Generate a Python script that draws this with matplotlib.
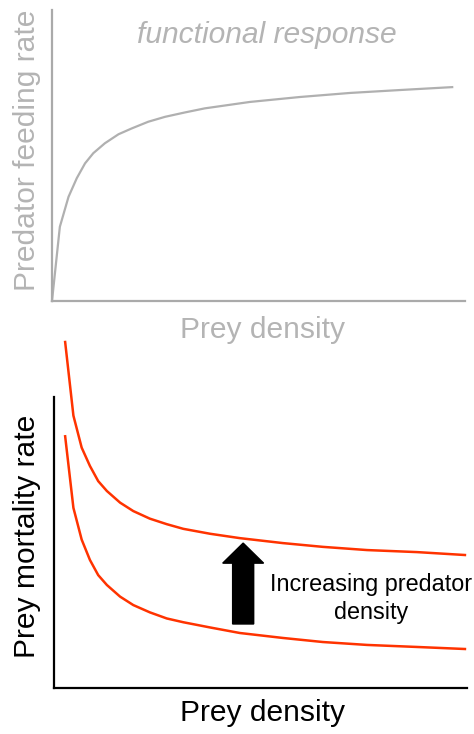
import numpy as np
import matplotlib
matplotlib.use('Agg')
import matplotlib.pyplot as plt
from matplotlib.patches import FancyArrow

plt.rcParams['font.family'] = ['Liberation Sans', 'DejaVu Sans']

# functional response (top panel)
fr_density = [0, 1.9, 4.0, 6.0, 8.0, 10.0, 12.8, 16.1, 19.3, 23.3, 27.4, 32.2, 37.0,
              47.9, 60.0, 72.2, 84.3, 96.9]
fr_rate = [0, 25.5, 35.8, 42.2, 47.3, 50.8, 54.2, 57.3, 59.3, 61.6, 63.3, 64.8, 66.2,
           68.4, 70.1, 71.5, 72.5, 73.5]

# prey mortality (bottom panel)
mort_density = [2.7, 4.7, 6.7, 8.7, 10.7, 12.8, 16.0, 19.2, 23.2, 27.3, 31.3, 37.8,
                45.0, 55.4, 65.1, 75.8, 87.9, 99.5]
mort_high = [118.9, 93.6, 82.6, 76.3, 71.1, 67.7, 63.7, 60.8, 58.2, 56.3, 54.7, 53.0,
             51.5, 49.8, 48.5, 47.4, 46.7, 45.7]
mort_low = [86.5, 61.9, 51.0, 44.0, 38.8, 35.4, 31.4, 28.5, 26.0, 23.9, 22.6, 20.8,
            18.9, 17.2, 15.8, 14.8, 14.1, 13.4]

grey_line = '#aaaaaa'
grey_text = '#b4b4b4'
red = '#ff3300'

fig = plt.figure(figsize=(4.74, 7.34), dpi=100)

# top panel
ax1 = fig.add_axes([52/474, 1 - 301/734, 413/474, 291/734])
ax1.plot(fr_density, fr_rate, color='#b0b0b0', lw=1.6, clip_on=False)
ax1.set_xlim(0, 100)
ax1.set_ylim(0, 100)
for s in ['top', 'right']:
    ax1.spines[s].set_visible(False)
for s in ['left', 'bottom']:
    ax1.spines[s].set_color(grey_line)
    ax1.spines[s].set_linewidth(1.6)
ax1.set_xticks([])
ax1.set_yticks([])
ax1.text(52.1, 88.7, 'functional response', style='italic', color=grey_text,
         fontsize=21.6, ha='center', va='baseline')
ax1.text(-25/413, (301-150)/291, 'Predator feeding rate', rotation=90, color=grey_text,
         fontsize=21.6, ha='center', va='center', transform=ax1.transAxes)
ax1.text((262-52)/413, -(330-301)/291, 'Prey density', color=grey_text,
         fontsize=21.6, ha='center', va='center', transform=ax1.transAxes)

# bottom panel
ax2 = fig.add_axes([54/474, 1 - 688/734, 413/474, 291/734])
ax2.plot(mort_density, mort_high, color=red, lw=1.8, clip_on=False)
ax2.plot(mort_density, mort_low, color=red, lw=1.8, clip_on=False)
ax2.set_xlim(0, 100)
ax2.set_ylim(0, 100)
for s in ['top', 'right']:
    ax2.spines[s].set_visible(False)
for s in ['left', 'bottom']:
    ax2.spines[s].set_color('black')
    ax2.spines[s].set_linewidth(1.6)
ax2.set_xticks([])
ax2.set_yticks([])

arrow = FancyArrow(45.8, 22.0, 0, 27.8, width=5.1, head_width=9.9, head_length=6.9,
                   length_includes_head=True, color='black', clip_on=False)
ax2.add_patch(arrow)
ax2.text(76.8, 30.8, 'Increasing predator\ndensity', fontsize=16.8, ha='center',
         va='center', linespacing=1.25, clip_on=False)

ax2.text(-27/413, (688-536)/291, 'Prey mortality rate', rotation=90, color='black',
         fontsize=21.6, ha='center', va='center', transform=ax2.transAxes)
ax2.text((262-54)/413, -(713-688)/291, 'Prey density', color='black',
         fontsize=21.6, ha='center', va='center', transform=ax2.transAxes)

fig.savefig('out.png', dpi=100)
